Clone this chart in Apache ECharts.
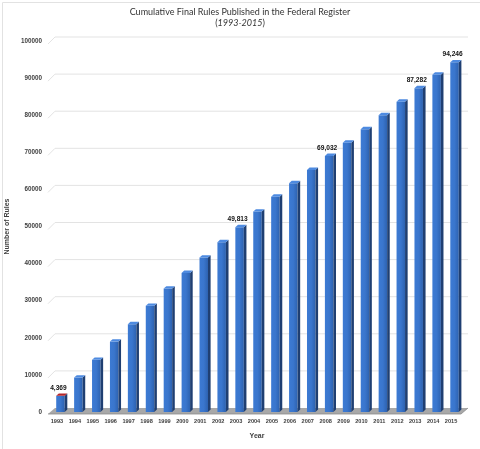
<!DOCTYPE html>
<html>
<head>
<meta charset="utf-8">
<script src="https://cdn.jsdelivr.net/npm/echarts@6/dist/echarts.min.js"></script>
<style>
html,body{margin:0;padding:0;background:#fff;}
#c{width:480px;height:449px;}
</style>
</head>
<body>
<div id="c"></div>
<script>
const years = ['1993','1994','1995','1996','1997','1998','1999','2000','2001','2002','2003','2004','2005','2006','2007','2008','2009','2010','2011','2012','2013','2014','2015'];
const rules = [4369, 9290, 14060, 18990, 23680, 28610, 33270, 37500, 41620, 45770, 49813, 54010, 58050, 61660, 65250, 69032, 72600, 76210, 79980, 83650, 87282, 90920, 94246];
const labeledYears = ['1993','2003','2008','2013','2015'];
const yTicks = [0,10000,20000,30000,40000,50000,60000,70000,80000,90000,100000];

const chart = echarts.init(document.getElementById('c'));
const fmt = v => v.toString().replace(/\B(?=(\d{3})+(?!\d))/g, ',');

function backdrop(params, api) {
  const cs = params.coordSys;
  const left = cs.x, right = cs.x + cs.width;
  const children = [];
  yTicks.forEach(v => {
    const y = api.coord([0, v])[1];
    if (v === 0) return;
    children.push({type:'polyline', shape:{points:[[left-3,y+3],[left+4,y-4],[right+5,y-4]]},
      style:{stroke:'#e3e3e3', lineWidth:1, fill:null}, silent:true});
  });
  const y0 = api.coord([0, 0])[1];
  children.push({type:'polygon', shape:{points:[[left-3,y0+2],[left+4,y0-4],[right+5,y0-4],[right-2,y0+2]]},
    style:{fill:'#a8a8a8'}, silent:true});
  children.push({type:'polyline', shape:{points:[[left-3,y0+2],[right-2,y0+2],[right+5,y0-4]]},
    style:{stroke:'#8c8c8c', lineWidth:0.8, fill:null}, silent:true});
  return {type:'group', children};
}

function bar3d(params, api) {
  const idx = api.value(0);
  const val = api.value(1);
  const top = api.coord([idx, val]);
  const base = api.coord([idx, 0]);
  const w = 8.5, d = 2.6, dy = 2.4;
  const x0 = top[0] - w/2 + 0.5;
  const yt = top[1], yb = base[1];
  const children = [
    {type:'rect', shape:{x:x0, y:yt, width:w, height:yb-yt},
      style:{fill:new echarts.graphic.LinearGradient(0,0,1,0,[{offset:0,color:'#3c7ad3'},{offset:0.5,color:'#3a76cd'},{offset:1,color:'#2d62b0'}])}},
    {type:'polygon', shape:{points:[[x0+w,yt],[x0+w+d,yt-dy],[x0+w+d,yb-dy],[x0+w,yb]]},
      style:{fill:'#1f3f72'}},
    {type:'polygon', shape:{points:[[x0,yt],[x0+d,yt-dy],[x0+w+d,yt-dy],[x0+w,yt]]},
      style:{fill: idx === 0 ? '#b3262a' : '#4d8ae0'}}
  ];
  const yr = years[idx];
  if (labeledYears.indexOf(yr) >= 0) {
    children.push({type:'text', style:{text:fmt(val), x:top[0]-1.5, y:yt-8, align:'center', verticalAlign:'middle',
      font:'bold 6.6px Arial, "Liberation Sans", sans-serif', fill:'#111'}});
  }
  return {type:'group', children};
}

chart.setOption({
  animation:false,
  backgroundColor:'#ffffff',
  title:{
    text:'Cumulative Final Rules Published in the Federal Register',
    subtext:'({i|1993-2015})',
    left:'center', top:3, itemGap:2,
    textStyle:{fontFamily:'Lato', fontSize:9, fontWeight:'normal', color:'#333333'},
    subtextStyle:{fontFamily:'Lato', fontSize:9, color:'#333333',
      rich:{i:{fontFamily:'Lato', fontSize:9, fontStyle:'italic', color:'#333333'}}}
  },
  graphic:[{type:'rect', left:0, top:0, shape:{x:0.5,y:0.5,width:479,height:448}, style:{fill:null, stroke:'#e2e2e2', lineWidth:1}, silent:true, z:-1}],
  grid:{left:51, right:17, top:41, bottom:37, containLabel:false, outerBoundsMode:'none'},
  xAxis:{
    type:'category', data:years,
    name:'Year', nameLocation:'middle', nameGap:21,
    nameTextStyle:{fontFamily:'Arial, "Liberation Sans"', fontWeight:'bold', fontSize:7, color:'#404040'},
    axisLine:{show:false}, axisTick:{show:false},
    axisLabel:{margin:6, fontFamily:'Arial, "Liberation Sans"', fontWeight:'bold', fontSize:5.6, color:'#404040', padding:[0,6,0,0], interval:0}
  },
  yAxis:{
    type:'value', min:0, max:100000, interval:10000,
    name:'Number of Rules', nameLocation:'middle', nameGap:39, nameRotate:90,
    nameTextStyle:{fontFamily:'Arial, "Liberation Sans"', fontWeight:'bold', fontSize:7, color:'#404040'},
    axisLine:{show:false}, axisTick:{show:false}, splitLine:{show:false},
    axisLabel:{margin:9, formatter: v => String(v), fontFamily:'Arial, "Liberation Sans"', fontWeight:'bold', fontSize:6.3, color:'#404040', padding:[6,0,0,0]}
  },
  series:[
    {type:'custom', renderItem:backdrop, data:[[0,0]], silent:true, z:1, clip:false},
    {type:'custom', renderItem:bar3d, data:rules.map((v,i)=>[i,v]), z:2, clip:false}
  ]
});
</script>
</body>
</html>
